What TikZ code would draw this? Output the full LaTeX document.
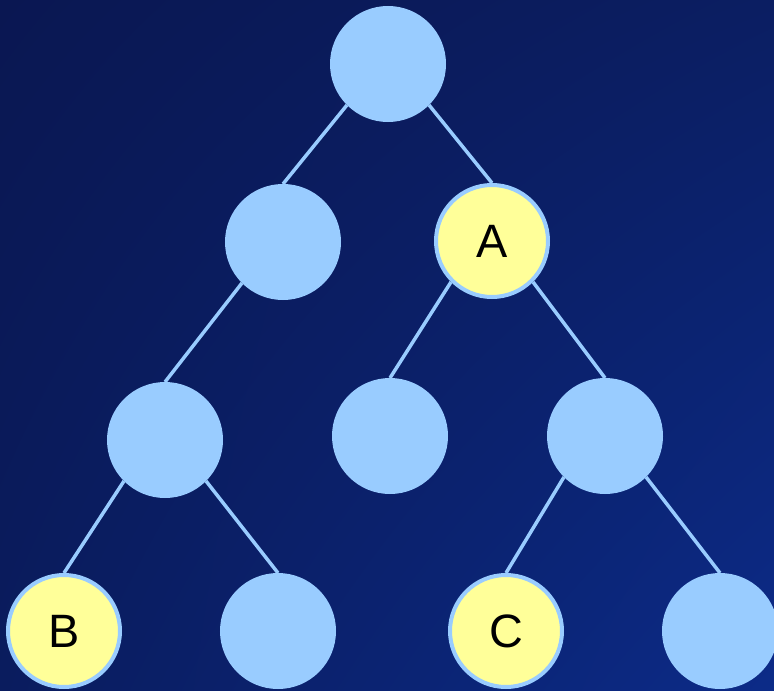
\documentclass[tikz,border=0pt]{standalone}
\usepackage{fontspec}
\setmainfont{Liberation Sans}
\usetikzlibrary{shadings}
\definecolor{nodeblue}{HTML}{99CCFF}
\definecolor{nodeyellow}{HTML}{FFFF99}
\definecolor{bgA}{HTML}{0A1752}
\definecolor{bgB}{HTML}{0B1E62}
\definecolor{bgC}{HTML}{0A1C5E}
\definecolor{bgD}{HTML}{0C2B88}
\pgfdeclarelayer{bg}
\pgfdeclarelayer{edges}
\pgfsetlayers{bg,edges,main}
\tikzset{
  treenode/.style={circle, draw=nodeblue, line width=4bp, fill=nodeblue,
    minimum size=112bp, inner sep=0pt, font=\fontsize{47}{47}\selectfont},
  marked/.style={treenode, fill=nodeyellow},
  branch/.style={draw=nodeblue, line width=3.5bp}
}
\begin{document}
\begin{tikzpicture}[x=1bp, y=-1bp]
  % background
  \begin{pgfonlayer}{bg}
    \shade[upper left=bgA, upper right=bgB, lower left=bgC, lower right=bgD]
      (0,0) rectangle (774,691);
  \end{pgfonlayer}
  \useasboundingbox (0,0) rectangle (774,691);

  % nodes
  \node[treenode] (r)  at (388,64)  {};
  \node[treenode] (l)  at (283,242) {};
  \node[marked]   (a)  at (492,241) {A};
  \node[treenode] (ll) at (165,440) {};
  \node[treenode] (al) at (390,436) {};
  \node[treenode] (ar) at (605,436) {};
  \node[marked]   (b)  at (64,631)  {B};
  \node[treenode] (lr) at (278,631) {};
  \node[marked]   (c)  at (506,631) {C};
  \node[treenode] (rr) at (720,631) {};

  % branches, drawn behind the nodes
  \begin{pgfonlayer}{edges}
    \path[branch]
      (r.south west) -- (l.north)
      (r.south east) -- (a.north)
      (l.south west) -- (ll.north)
      (a.south west) -- (al.north)
      (a.south east) -- (ar.north)
      (ll.south west) -- (b.north)
      (ll.south east) -- (lr.north)
      (ar.south west) -- (c.north)
      (ar.south east) -- (rr.north);
  \end{pgfonlayer}
\end{tikzpicture}
\end{document}
